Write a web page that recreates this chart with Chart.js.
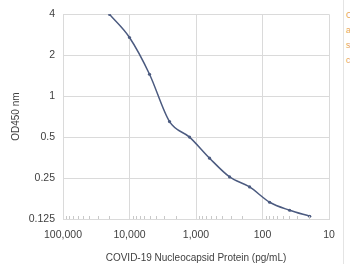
<!DOCTYPE html>
<html>
<head>
<meta charset="UTF-8">
<script src="https://cdn.jsdelivr.net/npm/chart.js"></script>
<style>
    body { margin: 0; background: #ffffff; }
    .wrap { position: relative; width: 350px; height: 264px; overflow: hidden; }
    #chart { position: absolute; left: 0; top: 0; }
    .edge { position: absolute; left: 343px; top: 0; width: 1px; height: 264px; background: #e4e4e4; }
    .side { position: absolute; left: 346px; font: 9px "Liberation Sans", sans-serif; color: #e8a75a; }
</style>
</head>
<body>
<div class="wrap">
    <canvas id="chart" width="342" height="264"></canvas>
    <div class="edge"></div>
    <div class="side" style="top:10px">C</div>
    <div class="side" style="top:25px">a</div>
    <div class="side" style="top:40px">s</div>
    <div class="side" style="top:55px">c</div>
</div>
<script>
// concentration (pg/mL), 2-fold dilution
const concentrations = [20000, 10000, 5000, 2500, 1250, 625, 312.5, 156.25, 78.1, 39.1, 19.5];
const od450 = [4.0, 2.7, 1.45, 0.65, 0.5, 0.35, 0.255, 0.215, 0.166, 0.145, 0.131];
const xTicks = [10, 100, 1000, 10000, 100000];
const yTicks = [0.125, 0.25, 0.5, 1, 2, 4];
const xTitle = "COVID-19 Nucleocapsid Protein (pg/mL)";
const yTitle = "OD450 nm";

const textColor = "#3f3f3f";
const gridColor = "#dadada";
const fontFamily = "'Liberation Sans', Arial, sans-serif";

// small inner tick marks along the x axis (minor log ticks)
const minorTicks = {
    id: "minorTicks",
    afterDraw(chart) {
        const x = chart.scales.x;
        const bottom = chart.chartArea.bottom;
        const ctx = chart.ctx;
        ctx.save();
        ctx.strokeStyle = "#c8c8c8";
        ctx.lineWidth = 1;
        for (let d = 10; d < 100000; d *= 10) {
            for (let m = 2; m < 10; m++) {
                const px = Math.round(x.getPixelForValue(d * m)) + 0.5;
                ctx.beginPath();
                ctx.moveTo(px, bottom);
                ctx.lineTo(px, bottom - 3);
                ctx.stroke();
            }
        }
        ctx.restore();
    }
};

new Chart(document.getElementById("chart"), {
    type: "line",
    data: {
        datasets: [{
            data: concentrations.map((c, i) => ({ x: c, y: od450[i] })),
            borderColor: "#4c5b80",
            backgroundColor: "#4c5b80",
            borderWidth: 1.5,
            pointRadius: 1.6,
            pointBorderWidth: 0,
            tension: 0.4,
            cubicInterpolationMode: "monotone"
        }]
    },
    options: {
        responsive: false,
        animation: false,
        layout: { padding: { top: 13, right: 13, left: 10, bottom: 0 } },
        plugins: { legend: { display: false }, tooltip: { enabled: false } },
        scales: {
            x: {
                type: "logarithmic",
                reverse: true,
                min: 10,
                max: 100000,
                afterBuildTicks: s => { s.ticks = xTicks.map(v => ({ value: v })); },
                afterFit: s => { s.height = 45; },
                ticks: {
                    autoSkip: false,
                    maxRotation: 0,
                    padding: 10,
                    color: textColor,
                    font: { family: fontFamily, size: 10.5 },
                    callback: v => v.toLocaleString("en-US")
                },
                grid: { color: gridColor, drawTicks: false },
                border: { color: gridColor },
                title: {
                    display: true,
                    text: xTitle,
                    color: textColor,
                    font: { family: fontFamily, size: 10 },
                    padding: { top: 3, bottom: 0 }
                }
            },
            y: {
                type: "logarithmic",
                min: 0.125,
                max: 4,
                afterBuildTicks: s => { s.ticks = yTicks.map(v => ({ value: v })); },
                afterFit: s => { s.width = 53; },
                ticks: {
                    autoSkip: false,
                    padding: 8,
                    color: textColor,
                    font: { family: fontFamily, size: 10.5 },
                    callback: v => String(v)
                },
                grid: { color: gridColor, drawTicks: false },
                border: { display: false },
                title: {
                    display: true,
                    text: yTitle,
                    color: textColor,
                    font: { family: fontFamily, size: 10 },
                    padding: { top: 0, bottom: 0 }
                }
            }
        }
    },
    plugins: [minorTicks]
});
</script>
</body>
</html>
